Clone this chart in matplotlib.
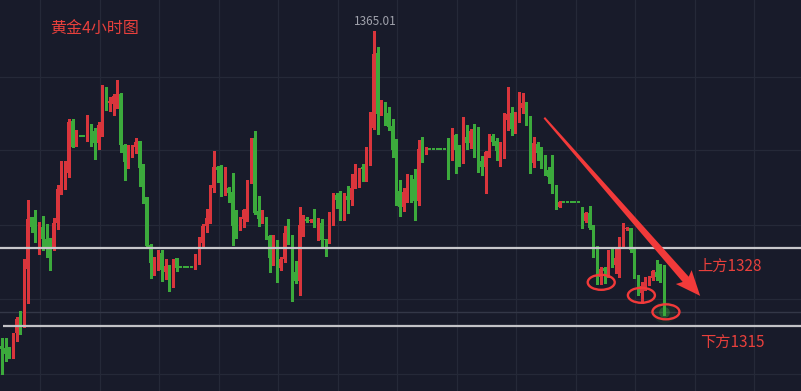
import numpy as np
import matplotlib
matplotlib.use("Agg")
import matplotlib.pyplot as plt
from matplotlib.patches import Ellipse, Polygon
from matplotlib.transforms import IdentityTransform

plt.rcParams['font.family'] = ['Noto Sans CJK SC', 'DejaVu Sans']

# -----------------------------
# Data (4h gold candles)
# -----------------------------
opens = [
    1311.6, 1311.3, 1310.3, 1309.7, 1313.8, 1316.2, 1315.0, 1324.7, 1333.5, 1331.8,
    1330.2, 1331.8, 1329.7, 1328.7, 1328.0, 1332.5, 1338.4, 1339.2, 1340.9, 1349.7,
    1345.5, 1347.2, 1347.2, 1346.5, 1348.2, 1348.0, 1346.0, 1348.9, 1355.3, 1352.8,
    1352.6, 1354.1, 1354.3, 1345.7, 1342.8, 1344.3, 1345.3, 1346.4, 1341.9, 1336.9,
    1328.7, 1325.5, 1326.2, 1327.4, 1324.2, 1324.8, 1322.3, 1326.5, 1325.0, 1325.0,
    1325.0, 1325.0, 1325.3, 1326.3, 1329.1, 1331.9, 1333.5, 1338.4, 1341.9, 1341.6,
    1337.7, 1338.4, 1337.7, 1331.9, 1331.4, 1333.1, 1334.5, 1339.4, 1346.9, 1334.5,
    1333.3, 1333.3, 1330.3, 1326.5, 1328.7, 1324.8, 1326.3, 1330.8, 1330.1, 1324.2,
    1322.6, 1332.1, 1333.1, 1332.8, 1334.7, 1332.5, 1332.5, 1329.7, 1329.4, 1333.1,
    1337.2, 1336.4, 1334.2, 1337.0, 1336.4, 1338.6, 1340.4, 1341.9, 1341.3, 1344.8,
    1348.6, 1361.3, 1350.9, 1353.0, 1351.1, 1348.9, 1345.0, 1337.9, 1335.2, 1337.5,
    1340.1, 1339.9, 1336.2, 1345.2, 1344.1, 1345.0, 1345.0, 1345.0, 1345.0, 1345.0,
    1346.0, 1343.8, 1347.4, 1345.0, 1343.1, 1347.0, 1346.0, 1348.0, 1345.0, 1342.9,
    1341.9, 1344.3, 1347.2, 1346.3, 1344.5, 1346.0, 1349.9, 1351.1, 1348.6, 1350.4,
    1351.9, 1352.8, 1350.6, 1342.6, 1345.8, 1344.5, 1343.1, 1341.4, 1340.4, 1338.0,
    1335.2, 1336.0, 1336.0, 1336.0, 1336.0, 1336.0, 1334.2, 1332.8, 1334.2, 1331.8,
    1328.5, 1323.3, 1324.8, 1324.3, 1326.5, 1325.3, 1326.5, 1329.1, 1331.4, 1331.6,
    1328.2, 1323.3, 1320.6, 1321.8, 1322.6, 1323.1, 1324.2, 1323.5, 1323.0,
]
highs = [
    1313.0, 1313.0, 1311.4, 1313.8, 1316.5, 1317.5, 1326.3, 1336.4, 1333.5, 1334.7,
    1332.6, 1333.6, 1332.3, 1329.9, 1333.3, 1338.9, 1342.9, 1342.9, 1350.1, 1350.1,
    1348.2, 1347.2, 1347.2, 1350.8, 1349.2, 1348.6, 1349.6, 1355.8, 1355.5, 1353.8,
    1354.3, 1356.7, 1354.5, 1345.8, 1345.7, 1345.7, 1346.8, 1346.4, 1342.5, 1336.9,
    1328.9, 1326.7, 1327.9, 1327.9, 1326.3, 1325.3, 1326.3, 1326.5, 1325.0, 1325.0,
    1325.0, 1325.0, 1327.2, 1330.1, 1332.3, 1334.8, 1338.9, 1344.7, 1342.1, 1342.3,
    1341.9, 1338.6, 1340.9, 1334.7, 1333.5, 1334.8, 1339.7, 1346.9, 1348.0, 1337.0,
    1334.7, 1333.5, 1330.4, 1330.4, 1329.6, 1326.7, 1331.9, 1333.1, 1330.4, 1326.0,
    1335.2, 1333.8, 1333.5, 1333.1, 1334.8, 1333.3, 1333.1, 1329.7, 1334.3, 1337.5,
    1337.5, 1337.9, 1337.5, 1338.7, 1340.8, 1342.5, 1341.8, 1342.5, 1345.3, 1351.3,
    1365.01, 1362.3, 1353.3, 1353.0, 1352.1, 1350.1, 1346.7, 1339.7, 1338.4, 1340.8,
    1340.6, 1341.6, 1346.5, 1347.0, 1345.3, 1345.0, 1345.0, 1345.0, 1345.0, 1345.0,
    1346.9, 1348.5, 1347.5, 1345.7, 1350.4, 1349.1, 1348.4, 1349.2, 1348.7, 1343.8,
    1344.7, 1347.5, 1347.5, 1346.9, 1346.2, 1351.1, 1355.5, 1352.1, 1351.3, 1354.7,
    1354.5, 1353.0, 1350.6, 1347.0, 1346.2, 1345.3, 1344.0, 1341.9, 1344.0, 1338.9,
    1336.2, 1336.0, 1336.0, 1336.0, 1336.0, 1336.0, 1335.2, 1334.3, 1335.3, 1332.1,
    1328.5, 1325.0, 1325.0, 1327.9, 1328.2, 1328.2, 1330.1, 1332.5, 1331.8, 1331.6,
    1328.2, 1323.6, 1322.5, 1323.3, 1323.5, 1324.5, 1326.2, 1325.5, 1325.3,
]
lows = [
    1306.9, 1309.1, 1309.6, 1309.6, 1312.5, 1313.6, 1314.8, 1318.9, 1330.9, 1329.2,
    1327.2, 1327.9, 1326.7, 1324.5, 1327.9, 1331.4, 1337.4, 1338.2, 1340.2, 1345.3,
    1345.5, 1347.2, 1347.2, 1346.4, 1345.5, 1343.3, 1345.0, 1347.2, 1351.6, 1351.4,
    1350.8, 1351.9, 1344.5, 1339.7, 1341.8, 1343.6, 1344.3, 1338.7, 1335.8, 1328.4,
    1323.1, 1323.6, 1324.5, 1322.6, 1323.0, 1320.9, 1321.6, 1324.3, 1325.0, 1325.0,
    1325.0, 1325.0, 1324.7, 1325.5, 1328.4, 1330.9, 1332.5, 1337.7, 1339.4, 1337.0,
    1337.2, 1336.0, 1328.7, 1329.9, 1331.3, 1331.8, 1332.8, 1339.2, 1334.0, 1331.9,
    1332.4, 1329.7, 1324.2, 1325.3, 1322.5, 1324.5, 1325.8, 1328.9, 1319.2, 1322.3,
    1320.3, 1330.3, 1332.6, 1332.6, 1331.8, 1329.6, 1328.4, 1326.9, 1329.1, 1332.1,
    1335.0, 1333.0, 1333.0, 1334.1, 1335.5, 1338.4, 1338.5, 1339.6, 1339.6, 1342.3,
    1348.4, 1347.5, 1350.8, 1349.1, 1348.2, 1343.6, 1335.5, 1333.6, 1334.5, 1336.0,
    1336.0, 1333.0, 1335.5, 1342.8, 1344.1, 1345.0, 1345.0, 1345.0, 1345.0, 1345.0,
    1339.9, 1343.1, 1340.9, 1342.1, 1342.6, 1345.0, 1345.2, 1343.6, 1341.1, 1340.6,
    1337.5, 1343.6, 1345.7, 1343.1, 1342.1, 1343.5, 1348.2, 1347.4, 1347.7, 1349.6,
    1351.1, 1349.1, 1340.9, 1341.9, 1343.1, 1341.8, 1340.6, 1339.2, 1337.5, 1334.8,
    1335.2, 1336.0, 1336.0, 1336.0, 1336.0, 1336.0, 1331.6, 1332.6, 1331.4, 1326.7,
    1322.1, 1322.1, 1322.3, 1323.3, 1325.0, 1324.0, 1323.3, 1328.4, 1331.3, 1327.5,
    1323.1, 1320.3, 1318.9, 1321.1, 1322.0, 1322.8, 1322.8, 1322.5, 1316.8,
]
closes = [
    1311.1, 1310.3, 1309.7, 1313.8, 1316.2, 1315.2, 1324.7, 1333.1, 1331.8, 1330.2,
    1331.6, 1329.7, 1328.4, 1328.5, 1332.5, 1338.2, 1339.2, 1341.1, 1349.6, 1345.3,
    1347.7, 1347.2, 1347.2, 1348.2, 1347.9, 1346.0, 1349.1, 1355.2, 1352.6, 1353.1,
    1354.0, 1354.5, 1345.7, 1342.8, 1344.5, 1345.5, 1346.2, 1341.8, 1336.7, 1328.5,
    1325.7, 1326.3, 1327.4, 1324.5, 1325.2, 1322.3, 1326.2, 1324.8, 1325.0, 1325.0,
    1325.0, 1325.0, 1326.3, 1329.1, 1331.9, 1333.3, 1338.4, 1341.9, 1341.4, 1337.7,
    1338.4, 1337.5, 1331.9, 1331.3, 1332.9, 1334.7, 1339.6, 1346.7, 1334.1, 1333.1,
    1333.6, 1330.6, 1326.5, 1328.7, 1325.0, 1326.3, 1330.8, 1330.1, 1324.2, 1322.6,
    1332.1, 1333.1, 1332.8, 1333.0, 1332.5, 1332.7, 1329.6, 1329.6, 1333.1, 1337.0,
    1336.4, 1334.2, 1337.0, 1336.4, 1338.4, 1340.4, 1341.6, 1341.6, 1344.8, 1348.6,
    1361.1, 1350.9, 1353.0, 1350.8, 1348.7, 1344.8, 1337.9, 1335.2, 1337.7, 1340.2,
    1339.6, 1336.2, 1345.0, 1344.3, 1344.8, 1345.0, 1345.0, 1345.0, 1345.0, 1345.0,
    1343.6, 1347.2, 1344.8, 1343.1, 1347.0, 1346.0, 1348.0, 1344.8, 1342.6, 1341.9,
    1344.5, 1347.2, 1346.2, 1344.6, 1346.0, 1349.9, 1350.9, 1348.4, 1350.4, 1351.9,
    1352.8, 1350.4, 1342.6, 1346.0, 1344.3, 1343.0, 1341.1, 1340.2, 1337.7, 1335.3,
    1336.0, 1336.0, 1336.0, 1336.0, 1336.0, 1336.0, 1332.8, 1334.2, 1331.6, 1328.4,
    1322.3, 1324.7, 1324.3, 1326.5, 1325.3, 1326.5, 1329.1, 1331.4, 1331.6, 1327.9,
    1323.3, 1320.6, 1321.8, 1322.6, 1323.1, 1324.3, 1323.3, 1322.8, 1317.3,
]

title = "黄金4小时图"
upper_level = 1328.2
lower_level = 1315.0
upper_label = "上方1328"
lower_label = "下方1315"
peak_label = "1365.01"
peak_index = 100

# marked lows (candle index, price) and trend arrow (start, end)
circle_marks = [(161.1, 1322.4), (171.9, 1320.2), (178.5, 1317.4)]
arrow_start = (145.8, 1350.3)
arrow_end = (187.7, 1320.1)

# -----------------------------
# Style
# -----------------------------
BG = "#181b2a"
GRID = "#252938"
RED = "#d9353c"
GREEN = "#3caa3c"
MARK = "#f23a3a"

fig = plt.figure(figsize=(8.01, 3.91), dpi=100, facecolor=BG)
ax = fig.add_axes([0, 0, 1, 1], facecolor=BG)
ax.set_xlim(-0.51, 214.8)
ax.set_ylim(1303.98, 1370.25)
ax.axis("off")

for gx in 10.25 + 16 * np.arange(13):
    ax.axvline(gx, color=GRID, lw=0.9, zorder=0)
for gy in [1357.2, 1344.8, 1332.1, 1319.6, 1306.9]:
    ax.axhline(gy, color=GRID, lw=0.9, zorder=0)

# current price line
ax.axhline(closes[-1], color="#333747", lw=1.0, zorder=1)

# candles
o = np.array(opens)
h = np.array(highs)
l = np.array(lows)
c = np.array(closes)
idx = np.arange(len(o))
colors = np.where(c > o, RED, GREEN)
ax.vlines(idx, l, h, colors=colors, lw=0.75, zorder=3, antialiased=False)
body_h = np.maximum(np.abs(c - o), 0.25)
body_b = np.where(np.abs(c - o) < 0.25, (o + c) / 2 - 0.12, np.minimum(o, c))
ax.bar(idx, body_h, width=0.8, bottom=body_b, color=colors, lw=0, zorder=4,
       antialiased=False)

# support / resistance lines
ax.axhline(upper_level, color="#c8c8cc", lw=1.6, zorder=5)
ax.hlines(lower_level, 0.3, 214.8, color="#c2c2c6", lw=1.6, zorder=5)

# glow on last candle
ax.scatter([idx[-1]], [closes[-1]], s=260, color=GREEN, alpha=0.10, lw=0, zorder=2)
ax.scatter([idx[-1]], [closes[-1]], s=60, color=GREEN, alpha=0.35, lw=0, zorder=2)

# ellipses around lows
for cx, cy in circle_marks:
    ax.add_patch(Ellipse((cx, cy), 7.26, 2.54, fill=False, ec=MARK, lw=1.7, zorder=6))

# tapered arrow, built in pixel space
p0 = ax.transData.transform(arrow_start)
p1 = ax.transData.transform(arrow_end)
d = p1 - p0
L = np.hypot(*d)
u = d / L
n = np.array([-u[1], u[0]])
head_len, head_w = 22.0, 10.5
w0, w1 = 1.0, 4.0
base = p1 - u * head_len
pts = [
    p0 + n * w0, base + n * w1, base + n * head_w - u * 3,
    p1,
    base - n * head_w - u * 3, base - n * w1, p0 - n * w0,
]
ax.add_patch(Polygon(pts, closed=True, fc=MARK, ec="none",
                     transform=IdentityTransform(), zorder=7))

# texts
ax.text(0.0624, 0.926, title, transform=ax.transAxes, color="#e8403c",
        fontsize=11.5, ha="left", va="center")
ax.annotate(peak_label, xy=(peak_index, highs[peak_index]), xytext=(1, 2),
            textcoords="offset points", ha="center", va="bottom",
            color="#a0a2ac", fontsize=8.5)
ax.text(0.870, 0.320, upper_label, transform=ax.transAxes, color="#e8403c",
        fontsize=11, ha="left", va="center")
ax.text(0.874, 0.123, lower_label, transform=ax.transAxes, color="#e8403c",
        fontsize=11, ha="left", va="center")

fig.savefig("out.png", dpi=100, facecolor=BG)
